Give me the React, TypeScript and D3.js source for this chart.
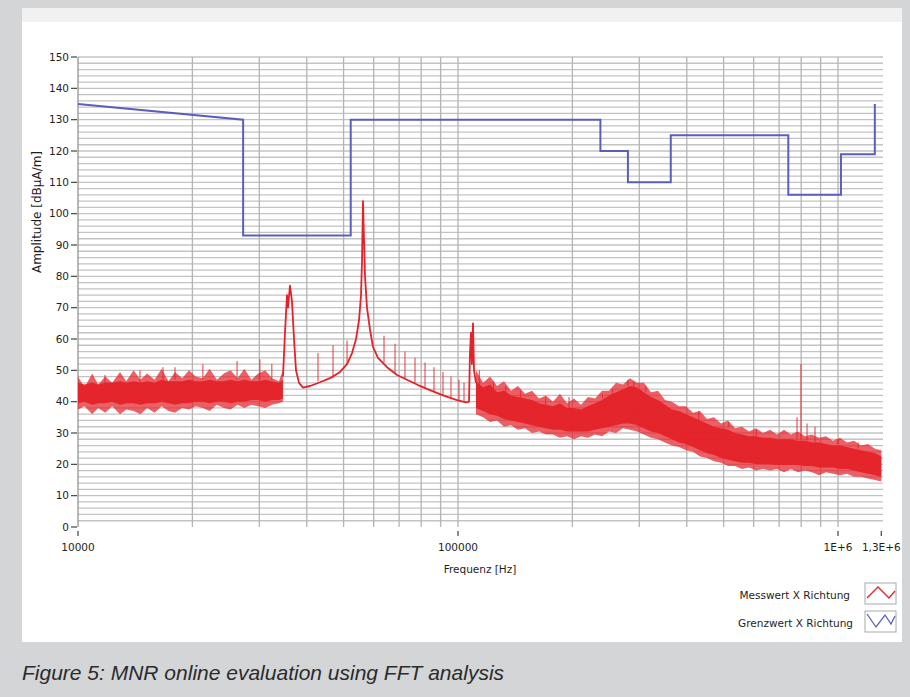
import React from 'react';
import * as d3 from 'd3';

// y axis: Amplitude [dBµA/m]
const yTicks = [0, 10, 20, 30, 40, 50, 60, 70, 80, 90, 100, 110, 120, 130, 140, 150];
// x axis: Frequenz [Hz]
const xTickValues = [10000, 100000, 1000000, 1300000];
const xTickLabels = ['10000', '100000', '1E+6', '1,3E+6'];

// Grenzwert X Richtung (limit, step line)
const limitFreq = [10000, 27200, 27200, 52200, 52200, 237000, 237000, 280000, 280000, 363000, 363000, 740000, 740000, 1018000, 1018000, 1250000, 1250000];
const limitLevel = [135, 130, 93, 93, 130, 130, 120, 120, 110, 110, 125, 125, 106, 106, 119, 119, 135];

// Messwert X Richtung, noise band below the first resonance
const bandAFreq = [10000, 10400, 10900, 11300, 11800, 12300, 12900, 13400, 14000, 14600, 15200, 15900, 16600, 17300, 18000, 18800, 19600, 20400, 21300, 22200, 23200, 24200, 25200, 26300, 27400, 28600, 29800, 31100, 32400, 33800, 34600];
const bandAHigh = [46, 45.5, 46, 45.5, 46, 46, 46.5, 46, 46.5, 46, 46.5, 46, 47, 46.5, 46.5, 46.5, 47, 46.5, 46.5, 47, 46.5, 46.5, 47, 46.5, 47, 46.5, 46.5, 47, 46.5, 46, 47];
const bandALow = [39.5, 40, 39, 39.5, 39.5, 40, 39, 39.5, 39.5, 39, 39.5, 39.5, 40, 39.5, 39, 39.5, 39.5, 40, 40, 39.5, 40, 40, 39.5, 40, 40, 40.5, 40.5, 40, 40.5, 40.5, 41];
const bandAPeakHigh = [48, 44.5, 49, 45.5, 48, 46, 49.5, 46.5, 50, 47, 49, 47, 50.5, 46.5, 49.5, 47.5, 50, 48, 47.5, 50.5, 47, 49, 50, 47.5, 50.5, 47, 49, 50, 47.5, 46.5, 50];
const bandAPeakLow = [37.5, 38.5, 36, 38, 36.5, 38.5, 36, 37.5, 37, 36, 38, 36.5, 38.5, 37, 36.5, 38, 37.5, 38.5, 38, 37, 39, 38, 37.5, 39, 38, 39, 38.5, 38, 39, 39.5, 40];

// Messwert, resonance section (36 kHz, 56 kHz and 109 kHz peaks)
const lineFreq = [34630, 35050, 35480, 35690, 36130, 36570, 37020, 37470, 38160, 39090, 40780, 43340, 46050, 48930, 51050, 52620, 53910, 54900, 55560, 55900, 56230, 56570, 56920, 57610, 58670, 59740, 61580, 65050, 69110, 73420, 78490, 84400, 91310, 99400, 104900, 106900, 107500, 108200, 108800, 109500, 110200, 111500];
const lineLevel = [48, 62, 74, 70, 77, 72, 60, 50, 46, 44.5, 45, 46.2, 47.5, 49.5, 52, 55.5, 60, 66, 74, 85, 104, 92, 80, 70, 63, 57.5, 54, 51, 48.5, 47, 45.3, 43.7, 42, 40.5, 39.8, 40, 55, 62, 52, 65, 50, 46];

// Messwert, noise band above 110 kHz
const bandBFreq = [111500, 116400, 121400, 126700, 132100, 137900, 143800, 150100, 156600, 163400, 170400, 177800, 185500, 193600, 202000, 210700, 219800, 229400, 239300, 249700, 260500, 271800, 283500, 295800, 308600, 322000, 336000, 350500, 365700, 381600, 398100, 415400, 433400, 452100, 471700, 492200, 513500, 535700, 558900, 583100, 608400, 634700, 662200, 690900, 720900, 752100, 784700, 818700, 854100, 891300, 929900, 970100, 1012200, 1056000, 1101800, 1149500, 1199300, 1251300, 1300000];
const bandBHigh = [46.5, 44.5, 45.5, 43, 43.5, 42, 41.5, 41, 40.5, 39.5, 39, 38.5, 39.5, 38, 38, 37.5, 38.5, 39.5, 40.5, 42, 43, 44, 45, 44.5, 43, 41.5, 40.5, 39, 37.5, 37, 36, 35, 34, 33, 32, 31.5, 31, 30, 29.5, 29, 29, 28.5, 28.5, 28, 28, 28, 27.5, 27.5, 27, 27, 26.5, 26, 26, 25.5, 25, 24.5, 24, 23.5, 22.5];
const bandBLow = [38, 37, 36, 35.5, 34.5, 34, 33.5, 33, 32.5, 32, 31.5, 31, 31, 30.5, 30.5, 30.5, 30.5, 31, 31.5, 32, 32.5, 33, 33, 32.5, 31.5, 30.5, 30, 29, 28, 27, 26.5, 25.5, 24.5, 23.5, 23, 22, 21.5, 21, 20.5, 20.5, 20, 20, 20, 19.8, 19.8, 19.8, 19.8, 19.5, 19.5, 19, 19, 19, 18.5, 18.5, 18, 17.5, 17, 16.5, 16];
const bandBPeakHigh = [50, 46, 48, 45, 46.5, 43.5, 45, 42.5, 43.5, 41, 42, 40, 42.5, 39.5, 41, 39, 41.5, 41, 43.5, 43.5, 46, 45.5, 47.5, 46, 46, 43, 43.5, 40.5, 40, 38.5, 38.5, 36.5, 37, 34.5, 35, 33, 34, 31.5, 32, 30.5, 31.5, 30, 31, 29.5, 31, 29.5, 30.5, 29, 29.5, 28.5, 29, 27.5, 28.5, 27, 27.5, 26, 26.5, 25, 24.5];
const bandBPeakLow = [36, 35, 33.5, 34, 32, 32.5, 31, 31.5, 30, 30.5, 29.5, 29.5, 28.5, 29, 28, 29, 28.5, 29.5, 29, 30.5, 30, 31.5, 31, 30.5, 29.5, 28.5, 28, 27, 26, 25.5, 24.5, 24, 22.5, 22, 21, 20.5, 19.5, 19.5, 18.5, 19, 18, 18.5, 18, 18.5, 17.5, 18.5, 17.5, 18, 17.5, 16.5, 17.5, 17, 16.5, 17, 16, 16, 15.5, 15, 14.5];

// single spectral lines sticking out of the spectrum
const spikeFreq = [11780, 14560, 16740, 18000, 21310, 26220, 30100, 32360, 42810, 46890, 51050, 63870, 68280, 72520, 77060, 81890, 86450, 91310, 95850, 100600, 103700, 113800, 124000, 133500, 146000, 170000, 196000, 240000, 255000, 280000, 290000, 312000, 430000, 516000, 610000, 780000, 799000, 829000, 870000, 1000000, 1130000];
const spikeFrom = [46, 46, 47, 47, 47, 47, 47, 47, 46.5, 47.5, 52, 52.5, 49, 47.5, 46, 44.5, 43, 42, 41, 40.5, 40, 44, 44, 42, 41, 39, 37.5, 41, 42, 45, 44.5, 43, 34, 32, 29, 28, 28, 27.5, 27, 26.5, 25];
const spikeTo = [48.5, 50, 51, 51, 52, 53, 53.5, 52, 55.5, 58, 59.5, 61, 58.5, 56, 54, 52.5, 51, 49.5, 48, 47, 46, 50, 46.5, 45, 43.5, 41.5, 41.5, 42.5, 44, 47, 46.5, 45, 37, 33.5, 31, 35, 52, 33, 32, 28, 27];

const W = 910;
const H = 697;
const RED = '#e42229';
const BLUE = '#5a5fbc';

export default function App() {
  const x = d3.scaleLog().domain([10000, 1300000]).range([78, 881.3]);
  const y = d3.scaleLinear().domain([0, 150]).range([527, 57]);

  const gridY = d3.range(2, 151, 2);
  const gridX: number[] = [];
  for (let p = 4; p <= 6; p++) {
    for (let k = 1; k <= 9; k++) {
      const f = k * Math.pow(10, p);
      if (f > 10000 && f <= 1300000) gridX.push(f);
    }
  }

  const limitPath = d3.line<number>()
    .x((_, i) => x(limitFreq[i]))
    .y(v => y(v))(limitLevel);
  const resPath = d3.line<number>()
    .x((_, i) => x(lineFreq[i]))
    .y(v => y(v))(lineLevel);

  const band = (freq: number[], hi: number[], lo: number[]) =>
    d3.area<number>()
      .x(i => x(freq[i]))
      .y0(i => y(lo[i]))
      .y1(i => y(hi[i]))(d3.range(freq.length)) || '';

  const font = '"DejaVu Sans", sans-serif';

  return (
    <svg width={W} height={H} style={{ position: 'absolute', left: 0, top: 0 }}>
      <rect x={0} y={0} width={W} height={H} fill="#d4d5d7" />
      <rect x={22} y={8} width={880} height={14} fill="#f1f1f1" />
      <rect x={22} y={22} width={880} height={620} fill="#ffffff" />

      {/* grid */}
      <g>
        {gridY.map(v => (
          <line key={'h' + v} x1={78} x2={883} y1={y(v)} y2={y(v)} stroke="#c3c3c3" strokeWidth={1.3} />
        ))}
        {gridX.map(f => (
          <line key={'v' + f} x1={x(f)} x2={x(f)} y1={y(150)} y2={y(0)} stroke="#b4b4b4" strokeWidth={1.3} />
        ))}
        <line x1={78} x2={78} y1={y(150)} y2={y(0)} stroke="#8a8a8a" strokeWidth={1.2} />
      </g>

      {/* y axis */}
      <g fontFamily={font} fontSize={10.5} fill="#1e1e1e">
        {yTicks.map(v => (
          <g key={'yt' + v}>
            <line x1={71} x2={77} y1={y(v)} y2={y(v)} stroke="#444" strokeWidth={1.2} />
            <text x={69} y={y(v)} dy="0.35em" textAnchor="end">{v}</text>
          </g>
        ))}
        <text transform={`translate(41,212) rotate(-90)`} textAnchor="middle" fontSize={12}>Amplitude [dBµA/m]</text>
      </g>

      {/* x axis */}
      <g fontFamily={font} fontSize={10.5} fill="#1e1e1e">
        {xTickValues.map((f, i) => (
          <g key={'xt' + f}>
            <line x1={x(f)} x2={x(f)} y1={531} y2={536} stroke="#444" strokeWidth={1.2} />
            <text x={x(f)} y={551} textAnchor="middle">{xTickLabels[i]}</text>
          </g>
        ))}
        <text x={480} y={573} textAnchor="middle">Frequenz [Hz]</text>
      </g>

      {/* Grenzwert */}
      <path d={limitPath || ''} fill="none" stroke={BLUE} strokeWidth={2} />

      {/* Messwert */}
      <g>
        <path d={band(bandAFreq, bandAPeakHigh, bandAPeakLow)} fill={RED} fillOpacity={0.72} />
        <path d={band(bandAFreq, bandAHigh, bandALow)} fill={RED} fillOpacity={0.95} />
        <path d={band(bandBFreq, bandBPeakHigh, bandBPeakLow)} fill={RED} fillOpacity={0.72} />
        <path d={band(bandBFreq, bandBHigh, bandBLow)} fill={RED} fillOpacity={0.95} />
        <path d={resPath || ''} fill="none" stroke={RED} strokeWidth={1.8} strokeLinejoin="round" />
        {spikeFreq.map((f, i) => (
          <line key={'s' + i} x1={x(f)} x2={x(f)} y1={y(spikeFrom[i])} y2={y(spikeTo[i])} stroke={RED} strokeOpacity={0.75} strokeWidth={1.2} />
        ))}
      </g>

      {/* legend */}
      <g fontFamily={font} fontSize={10.5} fill="#1e1e1e">
        <text x={850} y={599} textAnchor="end">Messwert X Richtung</text>
        <rect x={865} y={583} width={31} height={21} fill="#fff" stroke="#a9a9a9" />
        <polyline points="867,598 878,587 889,598 895,591" fill="none" stroke={RED} strokeWidth={1.3} />
        <text x={853} y={627} textAnchor="end">Grenzwert X Richtung</text>
        <rect x={865} y={611} width={31} height={21} fill="#fff" stroke="#a9a9a9" />
        <polyline points="867,614 876,627 885,615 891,624 895,616" fill="none" stroke={BLUE} strokeWidth={1.3} />
      </g>

      {/* caption */}
      <text x={22} y={680} fontFamily='"Liberation Sans", Arial, sans-serif' fontStyle="italic" fontSize={21} fill="#2b2b2b">
        Figure 5: MNR online evaluation using FFT analysis
      </text>
    </svg>
  );
}
